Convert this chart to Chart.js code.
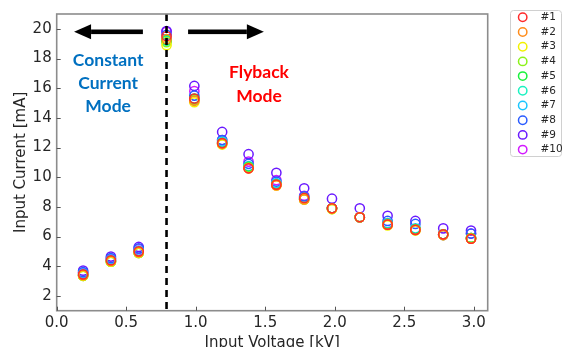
<!DOCTYPE html>
<html>
<head>
<meta charset="utf-8">
<script src="https://cdn.jsdelivr.net/npm/chart.js@4/dist/chart.umd.min.js"></script>
<style>
  html, body { margin: 0; padding: 0; background: #fff; }
  #wrap { width: 562px; height: 347px; }
</style>
</head>
<body>
<div id="wrap"><canvas id="myChart" width="562" height="347"></canvas></div>
<script>
(() => {
    // input voltage [kV] for each measuring point
    var voltage = [0.19, 0.39, 0.59, 0.79, 0.99, 1.19, 1.38, 1.58, 1.78, 1.98, 2.18, 2.38, 2.58, 2.78, 2.98];

    // input current [mA], one list per sample
    var s1 = [3.45, 4.40, 5.00, 19.50, 15.30, 12.30, 10.60, 9.50, 8.60, 7.90, 7.30, 6.80, 6.45, 6.15, 5.85];
    var s2 = [3.40, 4.35, 4.95, 19.30, 15.15, 12.25, 10.60, 9.45, 8.50, 7.90, 7.30, 6.80, 6.45, 6.10, 5.85];
    var s3 = [3.35, 4.30, 4.90, 18.90, 15.05, 12.20, 10.60, 9.45, 8.50, 7.85, 7.30, 6.75, 6.40, 6.10, 5.85];
    var s4 = [3.35, 4.30, 4.90, 19.10, 15.20, 12.25, 10.65, 9.50, 8.50, 7.85, 7.30, 6.80, 6.45, 6.15, 5.90];
    var s5 = [3.35, 4.30, 4.90, 19.25, 15.30, 12.30, 10.70, 9.50, 8.55, 7.90, 7.30, 6.85, 6.50, 6.15, 5.90];
    var s6 = [3.40, 4.35, 4.95, 19.20, 15.25, 12.35, 10.70, 9.55, 8.60, 7.90, 7.30, 6.85, 6.50, 6.15, 5.90];
    var s7 = [3.50, 4.45, 5.05, 19.30, 15.20, 12.40, 10.75, 9.60, 8.60, 7.90, 7.30, 6.90, 6.55, 6.15, 5.90];
    var s8 = [3.60, 4.55, 5.20, 19.60, 15.50, 12.50, 10.90, 9.70, 8.70, 7.90, 7.30, 7.05, 6.85, 6.10, 6.20];
    var s9 = [3.70, 4.65, 5.30, 19.85, 16.15, 13.05, 11.55, 10.30, 9.25, 8.55, 7.90, 7.40, 7.05, 6.55, 6.40];
    var s10 = [3.55, 4.50, 5.15, 19.80, 15.80, 12.50, 11.05, 9.80, 8.75, 7.90, 7.30, 6.90, 6.50, 6.15, 6.20];

    var seriesNames = ["#1", "#2", "#3", "#4", "#5", "#6", "#7", "#8", "#9", "#10"];
    var seriesValues = [s1, s2, s3, s4, s5, s6, s7, s8, s9, s10];
    var colors = ["#ff2a2a", "#ff8c1a", "#f2f200", "#8cf21a", "#1af23c", "#1af2c0", "#1ac6ff", "#2a5cff", "#6a1aff", "#d21aff"];

    var xTicks = [0.0, 0.5, 1.0, 1.5, 2.0, 2.5, 3.0];
    var yTicks = [2, 4, 6, 8, 10, 12, 14, 16, 18, 20];

    //build the scatter datasets
    var dataSets = [];
    for (var i = 0; i < seriesValues.length; i++) {
        var pts = [];
        for (var j = 0; j < voltage.length; j++) {
            pts.push({x: voltage[j], y: seriesValues[i][j]});
        }
        dataSets.push({
            label: seriesNames[i],
            data: pts,
            borderColor: colors[i],
            backgroundColor: "rgba(0,0,0,0)",
            borderWidth: 1.5,
            pointRadius: 4.6,
            pointHoverRadius: 4.6
        });
    }

    var tickFont = {family: "DejaVu Sans", size: 15};
    var dark = "#262626";
    var frame = "#8c8c8c";

    //dashed line, arrows, mode labels, frame, inside ticks and legend
    var extras = {
        id: "extras",
        afterDatasetsDraw: function (chart) {
            var ctx = chart.ctx,
                xs = chart.scales.x,
                ys = chart.scales.y,
                a = chart.chartArea;
            ctx.save();

            //mode boundary
            var bx = xs.getPixelForValue(0.79);
            ctx.strokeStyle = "#000";
            ctx.lineWidth = 2.6;
            ctx.setLineDash([7, 5]);
            ctx.beginPath();
            ctx.moveTo(bx, a.top);
            ctx.lineTo(bx, a.bottom);
            ctx.stroke();
            ctx.setLineDash([]);

            //arrows
            function arrow(x0, x1, yv) {
                var p0 = xs.getPixelForValue(x0),
                    p1 = xs.getPixelForValue(x1),
                    py = ys.getPixelForValue(yv),
                    dir = p1 > p0 ? 1 : -1,
                    head = 17;
                ctx.fillStyle = "#000";
                ctx.fillRect(Math.min(p0, p1 - dir * head), py - 2.3, Math.abs(p1 - dir * head - p0), 4.6);
                ctx.beginPath();
                ctx.moveTo(p1, py);
                ctx.lineTo(p1 - dir * head, py - 7.5);
                ctx.lineTo(p1 - dir * head, py + 7.5);
                ctx.closePath();
                ctx.fill();
            }
            arrow(0.62, 0.125, 19.8);
            arrow(0.945, 1.49, 19.8);

            //mode labels
            ctx.font = "bold 17.5px Lato";
            ctx.textAlign = "center";
            ctx.textBaseline = "middle";
            ctx.fillStyle = "#0070c0";
            var cx = xs.getPixelForValue(0.37);
            ctx.fillText("Constant", cx, ys.getPixelForValue(17.9));
            ctx.fillText("Current", cx, ys.getPixelForValue(16.3));
            ctx.fillText("Mode", cx, ys.getPixelForValue(14.75));
            ctx.fillStyle = "#ff0000";
            var fx = xs.getPixelForValue(1.455);
            ctx.fillText("Flyback", fx, ys.getPixelForValue(17.05));
            ctx.fillText("Mode", fx, ys.getPixelForValue(15.45));

            //axes frame
            ctx.strokeStyle = frame;
            ctx.lineWidth = 1.6;
            ctx.strokeRect(a.left, a.top, a.right - a.left, a.bottom - a.top);

            //ticks pointing inward
            ctx.strokeStyle = "#555";
            ctx.lineWidth = 1;
            ctx.beginPath();
            xs.ticks.forEach(function (t) {
                var px = Math.round(xs.getPixelForValue(t.value)) + 0.5;
                ctx.moveTo(px, a.bottom);
                ctx.lineTo(px, a.bottom - 4);
            });
            ys.ticks.forEach(function (t) {
                var py = Math.round(ys.getPixelForValue(t.value)) + 0.5;
                ctx.moveTo(a.left, py);
                ctx.lineTo(a.left + 4, py);
            });
            ctx.stroke();

            //legend box
            ctx.strokeStyle = "#d0d0d0";
            ctx.lineWidth = 1;
            ctx.beginPath();
            ctx.roundRect(510.5, 10.5, 51, 146, 3);
            ctx.stroke();
            ctx.font = "10.5px DejaVu Sans";
            ctx.textAlign = "left";
            ctx.fillStyle = dark;
            chart.data.datasets.forEach(function (ds, k) {
                var ly = 17.3 + k * 14.7;
                ctx.strokeStyle = ds.borderColor;
                ctx.lineWidth = 1.5;
                ctx.beginPath();
                ctx.arc(522.7, ly, 4.2, 0, Math.PI * 2);
                ctx.stroke();
                ctx.fillText(ds.label, 540.5, ly);
            });
            ctx.restore();
        }
    };

    var ctx1 = document.getElementById("myChart");
    var myChart = new Chart(ctx1, {
        type: "scatter",
        data: {datasets: dataSets},
        options: {
            responsive: false,
            animation: false,
            events: [],
            layout: {padding: {top: 11, right: 74.3, left: 0, bottom: 0}},
            plugins: {legend: {display: false}, tooltip: {enabled: false}},
            scales: {
                x: {
                    type: "linear",
                    min: 0,
                    max: 3.1,
                    afterBuildTicks: function (s) { s.ticks = xTicks.map(function (v) { return {value: v}; }); },
                    afterFit: function (s) { s.height = 36.3; },
                    grid: {display: false, drawTicks: false},
                    border: {display: false},
                    ticks: {
                        font: tickFont,
                        color: dark,
                        padding: 3,
                        maxRotation: 0,
                        callback: function (v) { return v.toFixed(1); }
                    },
                    title: {display: true, text: "Input Voltage [kV]", font: tickFont, color: dark, padding: {top: 0, bottom: -5}}
                },
                y: {
                    type: "linear",
                    min: 1,
                    max: 21,
                    afterBuildTicks: function (s) { s.ticks = yTicks.map(function (v) { return {value: v}; }); },
                    afterFit: function (s) { s.width = 56.7; },
                    grid: {display: false, drawTicks: false},
                    border: {display: false},
                    ticks: {font: tickFont, color: dark, padding: 5},
                    title: {display: true, text: "Input Current [mA]", font: tickFont, color: dark, padding: {top: 12, bottom: 0}}
                }
            }
        },
        plugins: [extras]
    });
})();
</script>
</body>
</html>
